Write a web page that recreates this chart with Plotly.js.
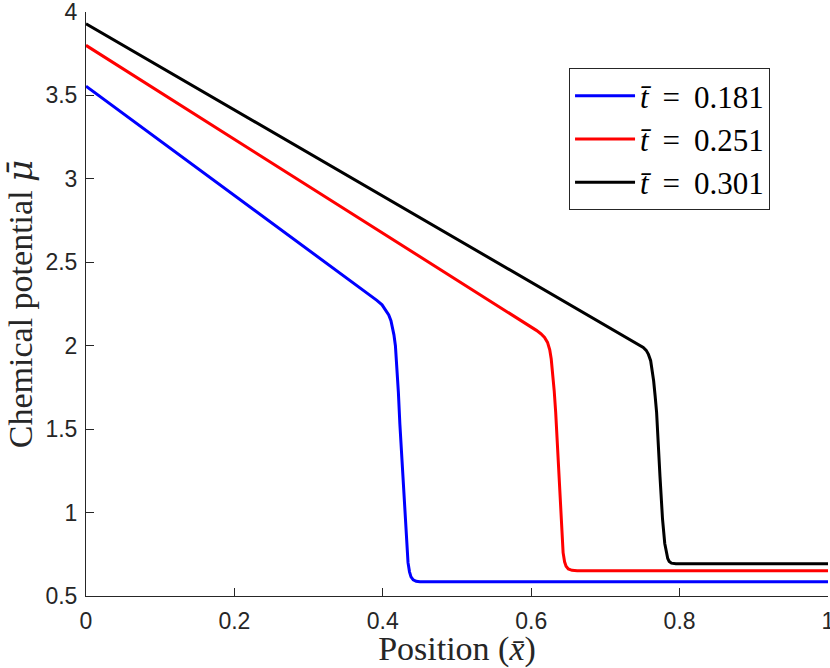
<!DOCTYPE html>
<html>
<head>
<meta charset="utf-8">
<script src="https://cdn.plot.ly/plotly-3.0.1.min.js"></script>
<style>html,body{margin:0;padding:0;background:#fff;}</style>
</head>
<body>
<div id="chart" style="width:830px;height:668px;"></div>
<script>
// Series
const seriesNames = ["<i>t̄</i>\u2009 =\u2009 0.181", "<i>t̄</i>\u2009 =\u2009 0.251", "<i>t̄</i>\u2009 =\u2009 0.301"];
const seriesColors = ["#0000ff", "#ff0000", "#000000"];

const blueX = [0, 0.1, 0.2, 0.3, 0.383, 0.392, 0.399, 0.404, 0.408, 0.411, 0.413, 0.415, 0.417, 0.419, 0.421, 0.423, 0.426, 0.428, 0.430, 0.432, 0.434, 0.436, 0.438, 0.441, 0.445, 0.450, 0.6, 0.8, 1];
const blueY = [3.555, 3.228, 2.901, 2.574, 2.304, 2.272, 2.245, 2.215, 2.185, 2.150, 2.115, 2.065, 2.00, 1.88, 1.72, 1.53, 1.30, 1.13, 0.95, 0.80, 0.70, 0.645, 0.615, 0.597, 0.588, 0.585, 0.585, 0.586, 0.586];

const redX = [0, 0.1, 0.2, 0.3, 0.4, 0.5, 0.585, 0.598, 0.607, 0.613, 0.618, 0.622, 0.625, 0.627, 0.629, 0.631, 0.633, 0.6366, 0.641, 0.643, 0.645, 0.647, 0.650, 0.655, 0.662, 0.8, 1];
const redY = [3.80, 3.519, 3.238, 2.957, 2.676, 2.395, 2.156, 2.118, 2.092, 2.072, 2.05, 2.02, 1.976, 1.92, 1.84, 1.73, 1.60, 1.277, 0.877, 0.76, 0.705, 0.678, 0.662, 0.654, 0.652, 0.652, 0.652];

const blackX = [0, 0.1, 0.2, 0.3, 0.4, 0.5, 0.6, 0.7, 0.735, 0.745, 0.751, 0.755, 0.758, 0.761, 0.763, 0.765, 0.767, 0.769, 0.7736, 0.777, 0.780, 0.782, 0.784, 0.786, 0.789, 0.795, 0.9, 1];
const blackY = [3.93, 3.672, 3.414, 3.157, 2.899, 2.641, 2.383, 2.125, 2.035, 2.008, 1.990, 1.972, 1.948, 1.91, 1.86, 1.79, 1.70, 1.60, 1.214, 0.96, 0.815, 0.76, 0.725, 0.707, 0.697, 0.694, 0.694, 0.694];

const xTickVals = [0, 0.2, 0.4, 0.6, 0.8, 1];
const xTickText = ["0", "0.2", "0.4", "0.6", "0.8", "1"];
const yTickVals = [0.5, 1, 1.5, 2, 2.5, 3, 3.5, 4];
const yTickText = ["0.5", "1", "1.5", "2", "2.5", "3", "3.5", "4"];

const xs = [blueX, redX, blackX];
const ys = [blueY, redY, blackY];

const traces = xs.map((x, i) => ({
  x: x, y: ys[i], type: "scatter", mode: "lines",
  name: seriesNames[i],
  line: {color: seriesColors[i], width: 3}
}));

const axisCommon = {
  showline: true, linecolor: "#262626", linewidth: 1,
  ticks: "inside", ticklen: 8, tickcolor: "#262626", tickwidth: 1,
  showgrid: false, zeroline: false, mirror: false,
  ticklabeloverflow: "allow",
  tickfont: {family: "Liberation Sans, Arial, sans-serif", size: 23, color: "#262626"}
};

const serif = "Liberation Serif, Times New Roman, serif";

const layout = {
  width: 830, height: 668,
  margin: {l: 86, r: 2, t: 12, b: 72},
  paper_bgcolor: "#fff", plot_bgcolor: "#fff",
  showlegend: true,
  legend: {
    x: 0.651, y: 0.904, xanchor: "left", yanchor: "top",
    bgcolor: "#fff", bordercolor: "#262626", borderwidth: 1,
    font: {family: serif, size: 31, color: "#000"},
    itemwidth: 60, tracegroupgap: 0
  },
  xaxis: Object.assign({}, axisCommon, {
    range: [0, 1], tickmode: "array", tickvals: xTickVals, ticktext: xTickText,
    ticklabelstandoff: 4,
    title: {text: "Position (<i>x̄</i>)", standoff: 6,
            font: {family: serif, size: 34, color: "#262626"}}
  }),
  yaxis: Object.assign({}, axisCommon, {
    range: [0.5, 4], tickmode: "array", tickvals: yTickVals, ticktext: yTickText,
    ticklabelstandoff: 3,
    title: {text: "Chemical potential <span style=\"font-family:'DejaVu Serif'\"><i>μ̄</i></span>", standoff: 12,
            font: {family: serif, size: 34, color: "#262626"}}
  })
};

Plotly.newPlot("chart", traces, layout, {displayModeBar: false, staticPlot: true});
</script>
</body>
</html>
